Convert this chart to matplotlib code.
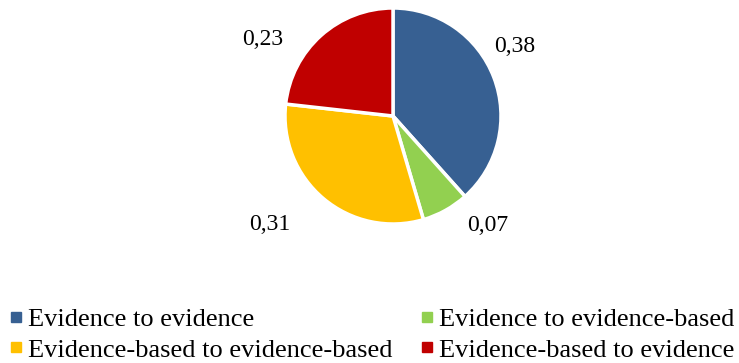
import matplotlib.pyplot as plt
from matplotlib.lines import Line2D

plt.rcParams['font.family'] = ['Liberation Serif', 'DejaVu Serif']

# 数据
categories = ['Evidence to evidence', 'Evidence to evidence-based',
              'Evidence-based to evidence-based', 'Evidence-based to evidence']
shares = [0.38, 0.07, 0.31, 0.23]
colors = ['#376092', '#92D050', '#FFC000', '#C00000']
# 数值标签位置（以半径为单位）
label_pos = [(1.13, 0.64), (0.88, -1.01), (-1.14, -1.0), (-1.21, 0.71)]

W, H = 739, 363
fig = plt.figure(figsize=(W / 100, H / 100), dpi=100)

# 饼图
cx, cy, r = 393, 116, 108
ax = fig.add_axes([(cx - r) / W, (H - cy - r) / H, 2 * r / W, 2 * r / H])
ax.pie(shares, colors=colors, startangle=90, counterclock=False,
       normalize=True, radius=1,
       wedgeprops=dict(edgecolor='white', linewidth=2.5))
ax.set_xlim(-1, 1)
ax.set_ylim(-1, 1)
ax.set_aspect('equal')
ax.axis('off')

for v, (lx, ly) in zip(shares, label_pos):
    ax.text(lx, ly, f'{v:.2f}'.replace('.', ','), ha='center', va='center',
            fontsize=17, clip_on=False)

# 图例（按行排列）
handles = [Line2D([], [], linestyle='none', marker='s', markersize=6.5,
                  markerfacecolor=c, markeredgecolor=c) for c in colors]
order = [0, 2, 1, 3]
fig.legend([handles[i] for i in order], [categories[i] for i in order],
           ncol=2, loc='upper left', bbox_to_anchor=(0.015, 1 - 308 / H),
           borderaxespad=0, borderpad=0,
           frameon=False, fontsize=19, handlelength=0.4, handletextpad=0.25,
           columnspacing=1.1, labelspacing=0.25)

fig.savefig('out.png', dpi=100)
